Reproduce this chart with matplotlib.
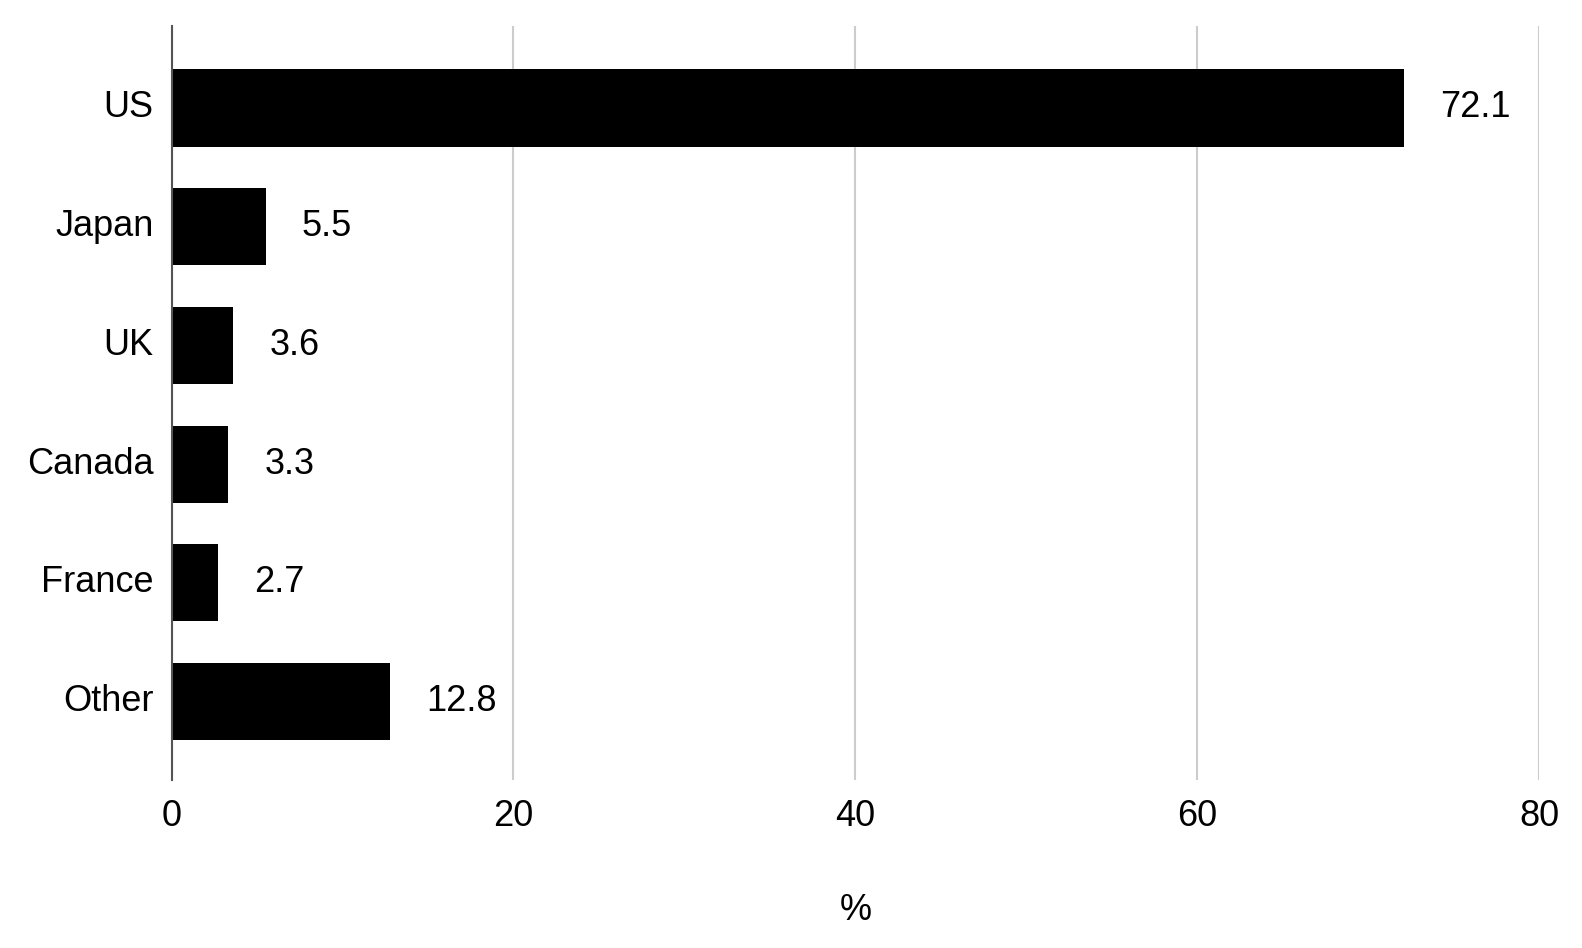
import matplotlib.pyplot as plt

countries = ['US', 'Japan', 'UK', 'Canada', 'France', 'Other']
shares = [72.1, 5.5, 3.6, 3.3, 2.7, 12.8]
xticks = [0, 20, 40, 60, 80]

plt.rcParams['font.family'] = ['Liberation Sans', 'DejaVu Sans']

fig = plt.figure(figsize=(15.82, 9.48), dpi=100)
ax = fig.add_axes([0.1085, 0.1772, 0.8643, 0.7954])

pos = list(range(len(countries)))
ax.barh(pos, shares, height=0.65, color='black', zorder=3)

# value labels to the right of each bar
for p, v in zip(pos, shares):
    ax.annotate(f'{v}', (v, p), xytext=(26, 0), textcoords='offset points',
                va='center', ha='left', fontsize=26)

ax.set_xlim(0, 80)
ax.set_ylim(5.66, -0.69)
ax.set_xticks(xticks)
ax.set_yticks(pos)
ax.set_yticklabels(countries, va='center')
ax.tick_params(axis='both', length=0, labelsize=26)
ax.tick_params(axis='y', pad=13)
ax.tick_params(axis='x', pad=14)
ax.grid(axis='x', color='#cccccc', linewidth=1.5, zorder=0)
for s in ['top', 'right', 'bottom']:
    ax.spines[s].set_visible(False)
ax.spines['left'].set_color('#555555')
ax.spines['left'].set_linewidth(1.5)
ax.spines['left'].set_zorder(4)
ax.set_xlabel('%', fontsize=26, labelpad=42)

fig.savefig('out.png', dpi=100)
